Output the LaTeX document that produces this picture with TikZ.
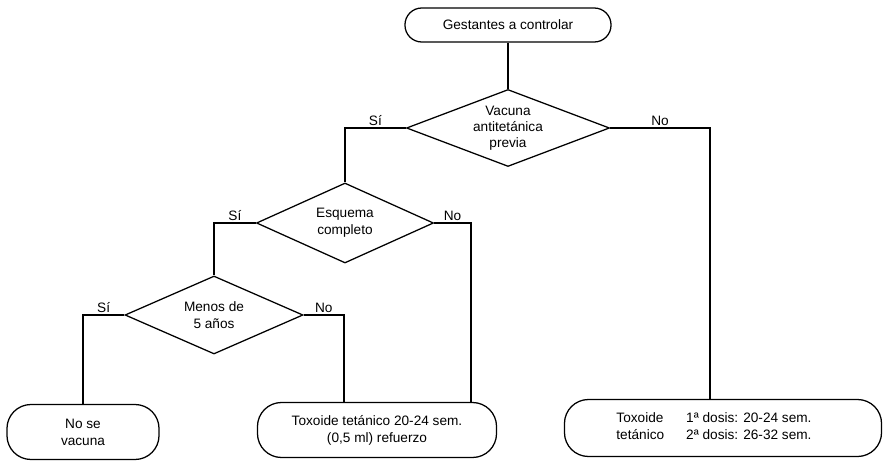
\documentclass[tikz,border=0pt]{standalone}
\usepackage{fontspec}
\setmainfont{Liberation Sans}
\usetikzlibrary{shapes,arrows,positioning}

\begin{document}
\begin{tikzpicture}[
    x=0.025cm, y=-0.025cm,
    font=\fontsize{9.7}{12}\selectfont,
    terminal/.style={rectangle, draw=black, line width=0.9pt, align=center, inner sep=0pt},
    decision/.style={diamond, draw=black, line width=0.9pt, align=center, inner sep=0pt},
    link/.style={draw=black, line width=0.9pt},
    answer/.style={above, inner sep=1.5pt}
]
\useasboundingbox (0,0) rectangle (887,464);

% Start
\node [terminal, minimum width=5.15cm, minimum height=0.85cm, rounded corners=0.42cm] (start) at (508,25) {Gestantes a controlar};

% Decisions
\node [decision, aspect=2.64, minimum width=5.075cm, minimum height=1.925cm, font=\fontsize{9.7}{11.5}\selectfont] (vacuna) at (508,128) {Vacuna\\antitetánica\\previa};
\node [decision, aspect=2.2, minimum width=4.425cm, minimum height=2cm] (esquema) at (345,223) {Esquema\\completo};
\node [decision, aspect=2.28, minimum width=4.45cm, minimum height=1.95cm] (menos) at (214,315) {Menos de\\5 años};

% Outcomes
\node [terminal, minimum width=3.8cm, minimum height=1.375cm, rounded corners=0.6cm] (novac) at (83,432) {No se\\vacuna};
\node [terminal, minimum width=5.975cm, minimum height=1.375cm, rounded corners=0.6cm] (refuerzo) at (377,430) {Toxoide tetánico 20-24 sem.\\(0,5 ml) refuerzo};
\node [terminal, minimum width=7.925cm, minimum height=1.425cm, rounded corners=0.6cm] (dosis) at (723,428) {\begin{tabular}{@{}l@{\hspace{0.55cm}}l@{\hspace{0.45cm}}}Toxoide & 1ª dosis: 20-24 sem.\\ tetánico & 2ª dosis: 26-32 sem.\end{tabular}};

% Bends for the No branches
\coordinate (noVac) at (710,128);
\coordinate (noEsq) at (471,223);
\coordinate (noMen) at (344,315);

% Connectors
\draw [link] (start.south) -- (vacuna.north);
\draw [link] (vacuna.west) -| node [answer, pos=0.25] {Sí} (esquema.north);
\draw [link] (vacuna.east) -- node [answer] {No} (noVac) -- (noVac |- dosis.north);
\draw [link] (esquema.west) -| node [answer, pos=0.25] {Sí} (menos.north);
\draw [link] (esquema.east) -- node [answer] {No} (noEsq) -- (noEsq |- refuerzo.north);
\draw [link] (menos.west) -| node [answer, pos=0.25] {Sí} (novac.north);
\draw [link] (menos.east) -- node [answer] {No} (noMen) -- (noMen |- refuerzo.north);

\end{tikzpicture}
\end{document}
